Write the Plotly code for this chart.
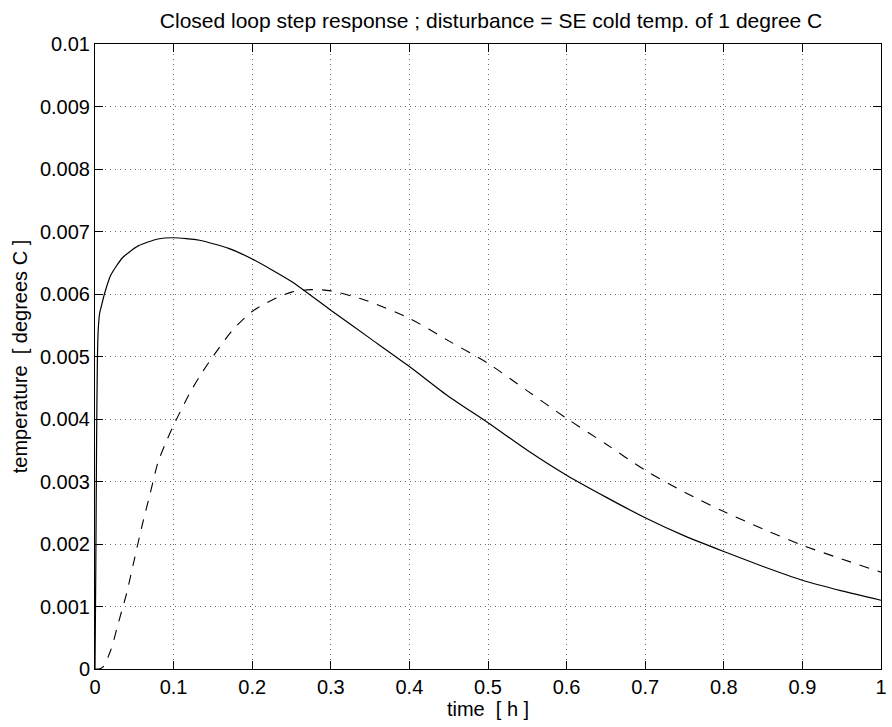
import plotly.graph_objects as go

# Solid curve
t_solid = [0, 0.001, 0.002, 0.003, 0.004, 0.006, 0.008, 0.012, 0.02, 0.035, 0.055, 0.08, 0.1,
           0.133, 0.17, 0.2, 0.25, 0.3, 0.35, 0.4, 0.45, 0.5, 0.55, 0.6, 0.65, 0.7, 0.75,
           0.8, 0.85, 0.9, 0.95, 1.0]
y_solid = [0, 0.0016, 0.0036, 0.0049, 0.0054, 0.0057, 0.0058, 0.0060, 0.0063, 0.00658, 0.00677,
           0.00688, 0.0069, 0.00686, 0.00673, 0.00656, 0.0062, 0.00574, 0.00529, 0.00484,
           0.00436, 0.00394, 0.0035, 0.0031, 0.00275, 0.00242, 0.00213, 0.00188, 0.00164,
           0.00142, 0.00125, 0.0011]

# Dashed curve
t_dash = [0, 0.005, 0.01, 0.02, 0.03, 0.04, 0.05, 0.06, 0.07, 0.08, 0.09, 0.1, 0.12, 0.133,
          0.15, 0.175, 0.2, 0.225, 0.25, 0.275, 0.3, 0.344, 0.4, 0.45, 0.5, 0.55, 0.6, 0.65,
          0.7, 0.75, 0.8, 0.85, 0.9, 0.95, 1.0]
y_dash = [0, 0, 0.00003, 0.0003, 0.00075, 0.0012, 0.00175, 0.0023, 0.0028, 0.0033, 0.00362,
          0.0039, 0.0044, 0.00468, 0.0050, 0.00542, 0.00572, 0.0059, 0.00603, 0.00607,
          0.00605, 0.0059, 0.00561, 0.00525, 0.00489, 0.00445, 0.00401, 0.0036, 0.00318,
          0.00283, 0.00252, 0.00224, 0.00198, 0.00176, 0.00155]

x_tickvals = [0, 0.1, 0.2, 0.3, 0.4, 0.5, 0.6, 0.7, 0.8, 0.9, 1.0]
x_ticktext = ["0", "0.1", "0.2", "0.3", "0.4", "0.5", "0.6", "0.7", "0.8", "0.9", "1"]
y_tickvals = [0, 0.001, 0.002, 0.003, 0.004, 0.005, 0.006, 0.007, 0.008, 0.009, 0.01]
y_ticktext = ["0", "0.001", "0.002", "0.003", "0.004", "0.005", "0.006", "0.007", "0.008",
              "0.009", "0.01"]

title_text = "Closed loop step response ; disturbance = SE cold temp. of 1 degree C"
x_label = "time  [ h ]"
y_label = "temperature  [ degrees C ]"

FONT = "Liberation Sans, Arial, Helvetica, sans-serif"

fig = go.Figure()
fig.add_trace(go.Scatter(x=t_solid, y=y_solid, mode="lines",
                         line=dict(color="black", width=1.2, shape="spline", smoothing=0.6),
                         showlegend=False))
fig.add_trace(go.Scatter(x=t_dash, y=y_dash, mode="lines",
                         line=dict(color="black", width=1.1, dash="10px,9px",
                                   shape="spline", smoothing=0.8),
                         showlegend=False))

axis_common = dict(
    showline=True, linecolor="black", linewidth=1, mirror="ticks",
    ticks="inside", ticklen=8, tickcolor="black", tickwidth=1,
    showgrid=True, gridcolor="#6a6a6a", gridwidth=1, griddash="1px,4px",
    zeroline=False, tickfont=dict(family=FONT, size=20, color="black"),
    ticklabeloverflow="allow",
)

fig.update_xaxes(range=[0, 1], tickvals=x_tickvals, ticktext=x_ticktext,
                 title=dict(text=x_label, font=dict(family=FONT, size=20, color="black"),
                            standoff=2), **axis_common)
fig.update_yaxes(range=[0, 0.01], tickvals=y_tickvals, ticktext=y_ticktext,
                 title=dict(text=y_label, font=dict(family=FONT, size=20, color="black"),
                            standoff=6), **axis_common)

fig.update_layout(
    width=892, height=727,
    margin=dict(l=95, r=5, t=44, b=58),
    paper_bgcolor="white", plot_bgcolor="white",
    title=dict(text=title_text, font=dict(family=FONT, size=21, color="black"),
               x=0.5505, xanchor="center",
               y=1 - 21 / 727, yanchor="middle", yref="container", xref="container"),
)

fig.write_html("out.html")
